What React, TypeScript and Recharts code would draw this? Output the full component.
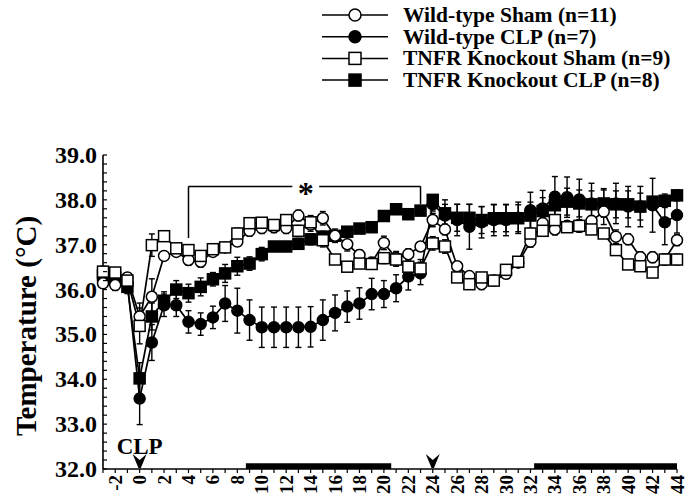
import React from "react";
import {
  LineChart,
  Line,
  XAxis,
  YAxis,
  ErrorBar,
  ReferenceArea,
  ReferenceLine,
  ReferenceDot,
} from "recharts";

const FONT = "'Liberation Serif', 'Times New Roman', serif";

// hours relative to CLP
const HOURS = [
  -3, -2, -1, 0, 1, 2, 3, 4, 5, 6, 7, 8, 9, 10, 11, 12, 13, 14, 15, 16, 17, 18, 19, 20,
  21, 22, 23, 24, 25, 26, 27, 28, 29, 30, 31, 32, 33, 34, 35, 36, 37, 38, 39, 40, 41, 42, 43, 44,
];

const WT_SHAM = [
  36.14, 36.1, 36.27, 35.4, 35.84, 36.75, 36.84, 36.66, 36.62, 36.84, 36.94, 37.07, 37.31, 37.37,
  37.39, 37.37, 37.65, 37.45, 37.59, 37.2, 37.01, 36.77, 36.6, 37.04, 36.7, 36.79, 36.96, 37.55,
  37.34, 36.52, 36.3, 36.12, 36.2, 36.35, 36.6, 37.07, 37.48, 37.34, 37.42, 37.4, 37.53, 37.74,
  37.18, 37.12, 36.72, 36.72, 36.67, 37.1,
];
const WT_SHAM_SE = [
  0.1, 0.12, 0.1, 0.3, 0.4, 0.1, 0.1, 0.12, 0.12, 0.1, 0.1, 0.1, 0.12, 0.12, 0.12, 0.12, 0.12,
  0.15, 0.15, 0.15, 0.15, 0.12, 0.12, 0.15, 0.15, 0.12, 0.1, 0.15, 0.12, 0.1, 0.1, 0.12, 0.1, 0.1,
  0.1, 0.12, 0.12, 0.12, 0.1, 0.12, 0.12, 0.12, 0.15, 0.12, 0.12, 0.12, 0.12, 0.12,
];

const WT_CLP = [
  36.25, 36.29, 36.14, 33.57, 34.82, 35.65, 35.65, 35.28, 35.23, 35.38, 35.69, 35.53, 35.32,
  35.16, 35.16, 35.16, 35.16, 35.17, 35.32, 35.48, 35.62, 35.69, 35.9, 35.9, 36.03, 36.29, 36.36,
  37.9, 37.65, 37.55, 37.4, 37.5, 37.55, 37.55, 37.6, 37.77, 37.81, 38.07, 38.06, 38.01, 37.92,
  37.85, 37.92, 37.85, 37.85, 37.88, 37.5, 37.66,
];
const WT_CLP_SE = [
  0.12, 0.12, 0.12, 0.58, 0.4, 0.25, 0.25, 0.25, 0.25, 0.25, 0.4, 0.5, 0.45, 0.45, 0.45, 0.45,
  0.45, 0.45, 0.45, 0.4, 0.35, 0.35, 0.35, 0.3, 0.3, 0.3, 0.25, 0.15, 0.25, 0.35, 0.5, 0.35, 0.35,
  0.35, 0.35, 0.4, 0.4, 0.45, 0.45, 0.45, 0.45, 0.4, 0.45, 0.45, 0.45, 0.6, 0.5, 0.4,
];

const KO_SHAM = [
  36.4, 36.38, 36.2, 35.19, 36.99, 37.19, 36.92, 36.88, 36.75, 36.9, 36.94, 37.25, 37.48, 37.49,
  37.44, 37.55, 37.31, 37.5, 37.1, 36.67, 36.51, 36.58, 36.57, 36.7, 36.67, 36.51, 36.47, 37.03,
  36.96, 36.27, 36.12, 36.27, 36.2, 36.44, 36.62, 37.25, 37.31, 37.55, 37.39, 37.42, 37.34, 37.25,
  36.88, 36.56, 36.52, 36.38, 36.67, 36.67,
];
const KO_SHAM_SE = [
  0.12, 0.1, 0.1, 0.4, 0.25, 0.1, 0.1, 0.1, 0.1, 0.1, 0.1, 0.12, 0.1, 0.1, 0.1, 0.1, 0.12, 0.15,
  0.15, 0.1, 0.1, 0.1, 0.1, 0.12, 0.15, 0.15, 0.2, 0.15, 0.15, 0.1, 0.1, 0.1, 0.1, 0.1, 0.1, 0.3,
  0.1, 0.1, 0.1, 0.1, 0.1, 0.1, 0.1, 0.1, 0.1, 0.1, 0.12, 0.12,
];

const KO_CLP = [
  36.32, 36.27, 36.06, 34.02, 35.4, 35.75, 36.0, 35.92, 36.06, 36.23, 36.36, 36.52, 36.58, 36.79,
  36.96, 36.96, 37.02, 37.12, 37.18, 37.2, 37.29, 37.36, 37.39, 37.64, 37.79, 37.68, 37.76, 38.0,
  37.7, 37.6, 37.6, 37.55, 37.59, 37.59, 37.59, 37.65, 37.75, 37.88, 37.96, 37.92, 37.9, 37.92,
  37.9, 37.9, 37.85, 37.96, 37.98, 38.1,
];
const KO_CLP_SE = [
  0.15, 0.1, 0.15, 0.35, 0.3, 0.2, 0.2, 0.2, 0.2, 0.15, 0.2, 0.2, 0.15, 0.15, 0.1, 0.1, 0.12, 0.12,
  0.12, 0.1, 0.1, 0.1, 0.1, 0.1, 0.08, 0.08, 0.08, 0.1, 0.3, 0.3, 0.3, 0.3, 0.3, 0.3, 0.3, 0.3,
  0.3, 0.3, 0.3, 0.3, 0.3, 0.3, 0.3, 0.3, 0.3, 0.1, 0.15, 0.12,
];

const X_LABELS = [
  -2, 0, 2, 4, 6, 8, 10, 12, 14, 16, 18, 20, 22, 24, 26, 28, 30, 32, 34, 36, 38, 40, 42, 44,
];
const Y_LABELS = [32, 33, 34, 35, 36, 37, 38, 39];

// dark periods (hours)
const DARK = [
  [8.7, 20.6],
  [32.3, 44],
];
const ARROWS = [0, 24];

type Series = {
  key: string;
  name: string;
  values: number[];
  se: number[];
  shape: "circle" | "square";
  filled: boolean;
};

const SERIES: Series[] = [
  { key: "wtSham", name: "Wild-type Sham (n=11)", values: WT_SHAM, se: WT_SHAM_SE, shape: "circle", filled: false },
  { key: "wtClp", name: "Wild-type CLP (n=7)", values: WT_CLP, se: WT_CLP_SE, shape: "circle", filled: true },
  { key: "koSham", name: "TNFR Knockout Sham (n=9)", values: KO_SHAM, se: KO_SHAM_SE, shape: "square", filled: false },
  { key: "koClp", name: "TNFR Knockout CLP (n=8)", values: KO_CLP, se: KO_CLP_SE, shape: "square", filled: true },
];
const DRAW_ORDER = ["wtClp", "koClp", "wtSham", "koSham"];

const data = HOURS.map((h, i) => {
  const row: any = { h };
  SERIES.forEach((s) => {
    row[s.key] = s.values[i];
    row[s.key + "Se"] = s.se[i];
  });
  return row;
});

const yTicks: number[] = [];
for (let v = Y_LABELS[0]; v <= Y_LABELS[Y_LABELS.length - 1] + 1e-6; v += 0.2) {
  yTicks.push(Math.round(v * 10) / 10);
}

const Marker = ({ cx, cy, shape, filled, size = 11 }: any) => {
  const fill = filled ? "#000" : "#fff";
  if (shape === "circle") {
    return <circle cx={cx} cy={cy} r={size / 2} fill={fill} stroke="#000" strokeWidth={1.5} />;
  }
  return (
    <rect x={cx - size / 2} y={cy - size / 2} width={size} height={size} fill={fill} stroke="#000" strokeWidth={1.5} />
  );
};

const makeDot = (s: Series) => (p: any) => {
  if (p.cx == null || p.cy == null) return <g key={p.key} />;
  return (
    <g key={p.key}>
      <Marker cx={p.cx} cy={p.cy} shape={s.shape} filled={s.filled} />
    </g>
  );
};

const XTick = ({ x, y, payload }: any) => {
  const v = payload.value;
  const labelled = X_LABELS.includes(v);
  return (
    <g>
      <line x1={x} x2={x} y1={y} y2={y + 4} stroke="#000" strokeWidth={1.2} />
      {labelled && (
        <text
          transform={`translate(${x},${y + 6}) rotate(-90)`}
          textAnchor="end"
          dominantBaseline="central"
          fontFamily={FONT}
          fontWeight="bold"
          fontSize={19}
          fill="#000"
        >
          {v}
        </text>
      )}
    </g>
  );
};

const YTick = ({ x, y, payload }: any) => {
  const v = payload.value;
  const major = Y_LABELS.includes(v);
  return (
    <g>
      <line x1={x} x2={x + 4} y1={y} y2={y} stroke="#000" strokeWidth={1.2} />
      {major && (
        <text
          x={x - 6}
          y={y}
          textAnchor="end"
          dominantBaseline="central"
          fontFamily={FONT}
          fontWeight="bold"
          fontSize={24}
          fill="#000"
        >
          {v.toFixed(1)}
        </text>
      )}
    </g>
  );
};

const Arrow = (p: any) => {
  const { cx, cy, label } = p;
  return (
    <g>
      <path d={`M${cx - 7},${cy - 15} L${cx},${cy - 9} L${cx + 7},${cy - 15} L${cx + 1.2},${cy - 1} L${cx - 1.2},${cy - 1} Z`} fill="#000" />
      {label && (
        <text x={cx} y={cy - 15} textAnchor="middle" fontFamily={FONT} fontWeight="bold" fontSize={23} fill="#000">
          {label}
        </text>
      )}
    </g>
  );
};

const Star = (p: any) => (
  <text x={p.cx} y={p.cy + 18} textAnchor="middle" fontFamily={FONT} fontWeight="bold" fontSize={32} fill="#000">
    *
  </text>
);

export default function App() {
  return (
    <div style={{ position: "absolute", left: 0, top: 0, width: 694, height: 499, background: "#fff" }}>
      <LineChart
        width={694}
        height={499}
        data={data}
        margin={{ top: 155, right: 17, bottom: 0, left: 23 }}
      >
        <XAxis
          dataKey="h"
          type="number"
          domain={[-3, 44]}
          ticks={HOURS}
          interval={0}
          tick={<XTick />}
          tickSize={0}
          tickMargin={0}
          tickLine={false}
          axisLine={{ stroke: "#000", strokeWidth: 1.6 }}
          height={30}
        />
        <YAxis
          type="number"
          domain={[32, 39]}
          ticks={yTicks}
          interval={0}
          tick={<YTick />}
          tickSize={0}
          tickMargin={0}
          tickLine={false}
          axisLine={{ stroke: "#000", strokeWidth: 1.6 }}
          width={80}
        />
        {DARK.map(([a, b]) => (
          <ReferenceArea
            key={a}
            x1={a}
            x2={b}
            y1={32}
            y2={32.13}
            fill="#000"
            fillOpacity={1}
            stroke="none"
            ifOverflow="visible"
          />
        ))}
        {ARROWS.map((h) => (
          <ReferenceDot
            key={h}
            x={h}
            y={32}
            r={0}
            ifOverflow="visible"
            shape={(p: any) => <Arrow {...p} label={h === 0 ? "CLP" : undefined} />}
          />
        ))}
        <ReferenceLine segment={[{ x: 4, y: 37.15 }, { x: 4, y: 38.3 }]} stroke="#000" strokeWidth={1.5} ifOverflow="visible" />
        <ReferenceLine segment={[{ x: 4, y: 38.3 }, { x: 12.5, y: 38.3 }]} stroke="#000" strokeWidth={1.5} ifOverflow="visible" />
        <ReferenceLine segment={[{ x: 14.7, y: 38.3 }, { x: 23, y: 38.3 }]} stroke="#000" strokeWidth={1.5} ifOverflow="visible" />
        <ReferenceLine segment={[{ x: 23, y: 38.3 }, { x: 23, y: 37.9 }]} stroke="#000" strokeWidth={1.5} ifOverflow="visible" />
        <ReferenceDot x={13.6} y={38.3} r={0} ifOverflow="visible" shape={(p: any) => <Star {...p} />} />
        {DRAW_ORDER.map((k) => {
          const s = SERIES.find((x) => x.key === k)!;
          return (
            <Line
              key={s.key}
              dataKey={s.key}
              name={s.name}
              stroke="#000"
              strokeWidth={1.7}
              dot={makeDot(s)}
              activeDot={false}
              isAnimationActive={false}
            >
              <ErrorBar dataKey={s.key + "Se"} width={3} stroke="#000" strokeWidth={1.4} direction="y" />
            </Line>
          );
        })}
      </LineChart>
      <svg width={694} height={499} style={{ position: "absolute", left: 0, top: 0, pointerEvents: "none" }}>
        <text
          transform="translate(26,326) rotate(-90)"
          textAnchor="middle"
          dominantBaseline="central"
          fontFamily={FONT}
          fontWeight="bold"
          fontSize={29}
          fill="#000"
        >
          Temperature (°C)
        </text>
        {SERIES.map((s, i) => {
          const y = 15 + i * 21.7;
          return (
            <g key={s.key}>
              <line x1={322} x2={388} y1={y} y2={y} stroke="#000" strokeWidth={1.5} />
              <Marker cx={355} cy={y} shape={s.shape} filled={s.filled} size={12} />
              <text x={403} y={y} dominantBaseline="central" fontFamily={FONT} fontWeight="bold" fontSize={21.5} fill="#000">
                {s.name}
              </text>
            </g>
          );
        })}
      </svg>
    </div>
  );
}
